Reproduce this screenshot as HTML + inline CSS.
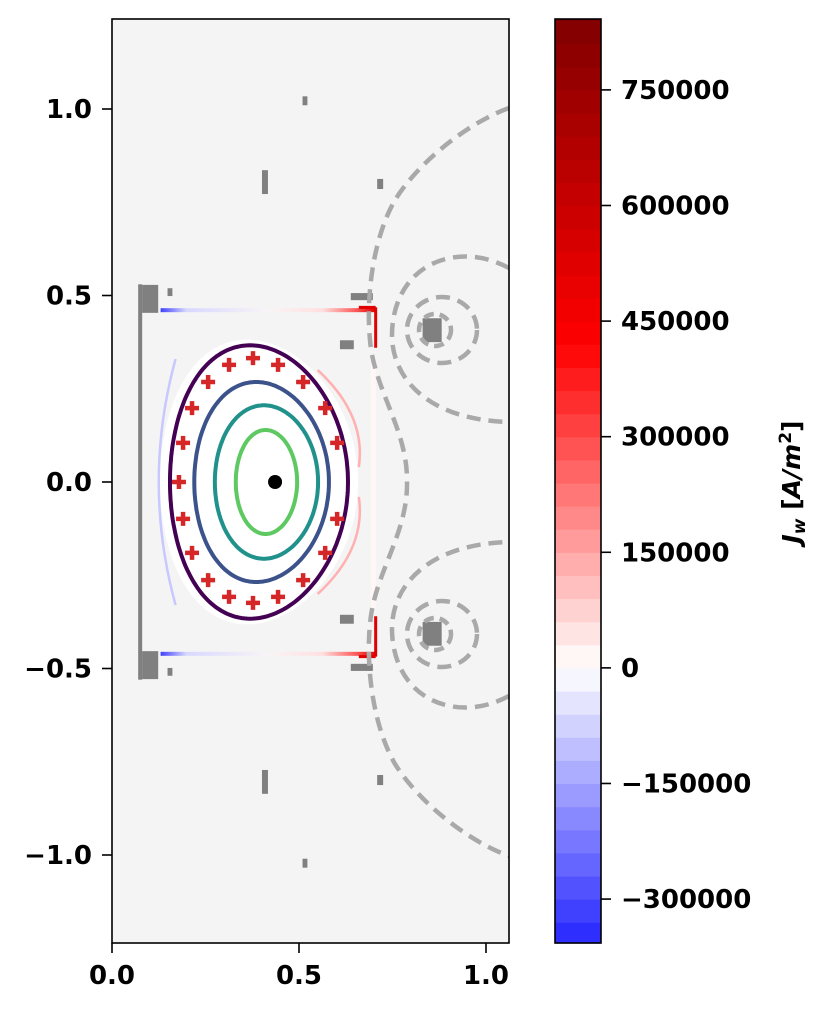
<!DOCTYPE html>
<html><head><meta charset="utf-8"><style>
html,body{margin:0;padding:0;background:#fff}
svg{display:block}
text{font-family:"DejaVu Sans","Liberation Sans",sans-serif;font-weight:bold;fill:#000}
</style></head><body>
<svg id="fig" width="827" height="1011" viewBox="0 0 827 1011">
<defs>
<clipPath id="plotclip"><rect x="112" y="19" width="397" height="924"/></clipPath>
<linearGradient id="hwall" x1="0" x2="1"><stop offset="0" stop-color="#4040ff"/><stop offset="0.12" stop-color="#d8d8ff"/><stop offset="0.5" stop-color="#f8f4f6"/><stop offset="0.75" stop-color="#ffe0e0"/><stop offset="0.9" stop-color="#ff6060"/><stop offset="1" stop-color="#e00000"/></linearGradient>
</defs>
<rect x="112" y="19" width="397" height="924" fill="#f4f4f4"/>
<g id="plot" clip-path="url(#plotclip)"></g>
<rect x="112" y="19" width="397" height="924" fill="none" stroke="#000" stroke-width="1.6"/>
<g id="axes"></g>
<g id="cbar"></g>
<text x="800" y="482" font-size="25" text-anchor="middle" transform="rotate(-90 800 482)"><tspan font-style="italic">J</tspan><tspan font-style="italic" font-size="17" dy="5">w</tspan><tspan dy="-5"> [</tspan><tspan font-style="italic">A/m</tspan><tspan font-size="17" dy="-9">2</tspan><tspan dy="9">]</tspan></text>
</svg>
<script>
const NS="http://www.w3.org/2000/svg";
// ---- data ----
const xTicks=[0.0,0.5,1.0];
const xTickLabels=["0.0","0.5","1.0"];
const yTicks=[1.0,0.5,0.0,-0.5,-1.0];
const yTickLabels=["1.0","0.5","0.0","\u22120.5","\u22121.0"];
const cbTicks=[-300000,-150000,0,150000,300000,450000,600000,750000];
const cbTickLabels=["\u2212300000","\u2212150000","0","150000","300000","450000","600000","750000"];
const cbMin=-357000, cbMax=842000, cbStep=30000;
// flux contours
const contourR0=[0.393,0.400,0.413,0.413];
const contourA=[0.238,0.180,0.138,0.082];
const contourKappa=[1.54,1.49,1.49,1.70];
const contourDelta=[0.10,0.08,0.05,0.03];
const contourColors=["#440154","#3b528b","#21918c","#5ec962"];
// plus markers (r,z)
const markerR=[0.377,0.313,0.444,0.257,0.511,0.214,0.570,0.190,0.602,0.179,0.190,0.602,0.214,0.570,0.257,0.511,0.313,0.444,0.377];
const markerZ=[0.332,0.314,0.314,0.268,0.268,0.198,0.198,0.105,0.105,0.0,-0.099,-0.099,-0.190,-0.190,-0.263,-0.263,-0.308,-0.308,-0.324];
const axisR=[0.436], axisZ=[0.0];
// coils: r, z(center), w, h (data units), mirrored
const coilR=[0.516,0.409,0.717,0.102,0.155,0.668,0.628,0.856];
const coilZ=[1.022,0.804,0.799,0.491,0.509,0.497,0.368,0.407];
const coilW=[0.013,0.016,0.016,0.043,0.013,0.059,0.037,0.051];
const coilH=[0.024,0.064,0.027,0.075,0.021,0.019,0.024,0.064];

// ---- scales ----
const X=v=>112+v*374, Y=v=>482-v*373;
const CY=v=>943-(v-cbMin)/(cbMax-cbMin)*924;
function el(tag,attrs,parent){const e=document.createElementNS(NS,tag);for(const k in attrs)e.setAttribute(k,attrs[k]);parent.appendChild(e);return e;}
const plot=document.getElementById('plot'),axes=document.getElementById('axes'),cbar=document.getElementById('cbar');

let w;
w=el('rect',{x:X(0.13),y:Y(0.466),width:X(0.705)-X(0.13),height:4,fill:"url(#hwall)"},plot);

w=el('rect',{x:X(0.13),y:Y(-0.466)-4,width:X(0.705)-X(0.13),height:4,fill:"url(#hwall)"},plot);

w=el('path',{d:`M${X(0.705)},${Y(0.468)} V${Y(0.36)} M${X(0.705)},${Y(-0.468)} V${Y(-0.36)} M${X(0.66)},${Y(0.468)} H${X(0.705)} M${X(0.66)},${Y(-0.468)} H${X(0.705)}`,stroke:"#e00000","stroke-width":3,fill:"none"},plot);

w=el('rect',{x:X(0.7)-3,y:Y(0.34),width:5,height:Y(-0.34)-Y(0.34),fill:"#fff6f6"},plot);

function dshape(R0,a,k,d,n){let p="";for(let i=0;i<=n;i++){const t=2*Math.PI*i/n;const r=R0+a*Math.cos(t+d*Math.sin(t)),z=k*a*Math.sin(t);p+=(i?"L":"M")+X(r).toFixed(1)+","+Y(z).toFixed(1);}return p+"Z";}
w=el('path',{d:dshape(0.393,0.265,1.44,0.12,160),fill:"#ffffff"},plot);

w=el('path',{d:`M${X(0.17)},${Y(0.33)} Q${X(0.08)},${Y(0)} ${X(0.17)},${Y(-0.33)}`,stroke:"#c8c8ff","stroke-width":2.5,fill:"none"},plot);

w=el('path',{d:`M${X(0.55)},${Y(0.30)} Q${X(0.68)},${Y(0.18)} ${X(0.66)},${Y(0.04)} M${X(0.55)},${Y(-0.30)} Q${X(0.68)},${Y(-0.18)} ${X(0.66)},${Y(-0.04)}`,stroke:"#ffb0b0","stroke-width":2.5,fill:"none"},plot);


w=el('rect',{x:X(0.07),y:Y(0.53),width:4,height:Y(-0.53)-Y(0.53),fill:"#808080"},plot);

for(let i=0;i<coilR.length;i++){for(const s of [1,-1]){
 const c=el('rect',{x:X(coilR[i]-coilW[i]/2),y:Y(s*coilZ[i]+coilH[i]/2),width:coilW[i]*374,height:coilH[i]*373,fill:"#808080"},plot);
 
 
}}
const dash={stroke:"#a9a9a9","stroke-width":4.5,fill:"none","stroke-dasharray":"14,8"};
const vac=[
 "M509,108 C470,122 420,160 395,200 C372,240 366,300 370,340 C374,390 408,430 407,482 C408,534 374,574 370,624 C366,664 372,724 395,764 C420,804 470,842 509,856",
 "M509,268 C490,258 470,254 450,258 C410,266 392,300 392,335 C392,380 430,420 509,422",
 "M509,696 C490,706 470,710 450,706 C410,698 392,664 392,629 C392,584 430,544 509,542"
];
vac.forEach(d=>{const p=el('path',Object.assign({d},dash),plot);});
for(const cy of [330,634]){
 let c=el('ellipse',Object.assign({cx:442,cy,rx:35,ry:33},dash),plot);
 
 c=el('circle',Object.assign({cx:435,cy,r:16},dash,{"stroke-dasharray":"10,6"}),plot);
 
}
for(let i=0;i<contourR0.length;i++){
 const p=el('path',{d:dshape(contourR0[i],contourA[i],contourKappa[i],contourDelta[i],200),stroke:contourColors[i],"stroke-width":4,fill:"none"},plot);
 
 
}
for(let i=0;i<markerR.length;i++){
 const x=X(markerR[i]),y=Y(markerZ[i]);
 const m=el('path',{d:`M${x-7},${y} H${x+7} M${x},${y-7} V${y+7}`,stroke:"#d62728","stroke-width":4.5},plot);
 
 
}
const ax=el('circle',{cx:X(axisR[0]),cy:Y(axisZ[0]),r:7,fill:"#000"},plot);



xTicks.forEach((v,i)=>{
 const t=el('line',{x1:X(v),x2:X(v),y1:943,y2:953,stroke:"#000","stroke-width":1.6},axes);
 
 const l=el('text',{x:X(v),y:984,"font-size":26,"text-anchor":"middle"},axes);l.textContent=xTickLabels[i];
 
});
yTicks.forEach((v,i)=>{
 const t=el('line',{x1:102,x2:112,y1:Y(v),y2:Y(v),stroke:"#000","stroke-width":1.6},axes);
 
 const l=el('text',{x:92,y:Y(v)+9,"font-size":26,"text-anchor":"end"},axes);l.textContent=yTickLabels[i];
 
});

function seismic(v){let t=(v/cbMax+1)/2;let r,g,b;
 if(t<0.25){const u=t/0.25;r=0;g=0;b=0.3+0.7*u;}
 else if(t<0.5){const u=(t-0.25)/0.25;r=u;g=u;b=1;}
 else if(t<0.75){const u=(t-0.5)/0.25;r=1;g=1-u;b=1-u;}
 else{const u=(t-0.75)/0.25;r=1-0.5*u;g=0;b=0;}
 return `rgb(${Math.round(r*255)},${Math.round(g*255)},${Math.round(b*255)})`;}
for(let lo=Math.floor(cbMin/cbStep)*cbStep;lo<cbMax;lo+=cbStep){
 const a=Math.max(lo,cbMin),b=Math.min(lo+cbStep,cbMax);
 const r=el('rect',{x:555,y:CY(b),width:46,height:CY(a)-CY(b)+0.6,fill:seismic((lo+cbStep/2))},cbar);
 
 
}
const fr=el('rect',{x:555,y:19,width:46,height:924,fill:"none",stroke:"#000","stroke-width":1.6},cbar);

cbTicks.forEach((v,i)=>{
 const t=el('line',{x1:601,x2:611,y1:CY(v),y2:CY(v),stroke:"#000","stroke-width":1.6},cbar);
 
 const l=el('text',{x:621,y:CY(v)+9,"font-size":26},cbar);l.textContent=cbTickLabels[i];
 
});
</script>
</body></html>
